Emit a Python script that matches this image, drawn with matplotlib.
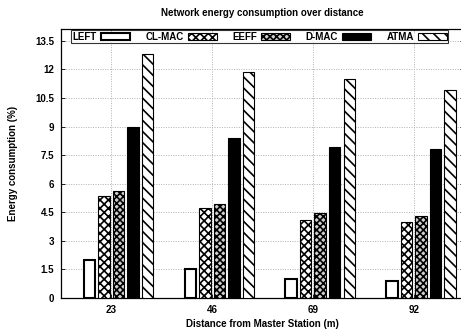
import matplotlib
matplotlib.use("Agg")
import matplotlib.pyplot as plt
import numpy as np

categories = ["23", "46", "69", "92"]
series_names = ["LEFT", "CL-MAC", "EEFF", "D-MAC", "ATMA"]
left_vals = [2.0, 1.5, 1.0, 0.9]
clmac_vals = [5.35, 4.75, 4.1, 4.0]
eeff_vals = [5.6, 4.95, 4.45, 4.3]
dmac_vals = [8.95, 8.4, 7.95, 7.8]
atma_vals = [12.8, 11.85, 11.5, 10.9]
yticks = [0, 1.5, 3, 4.5, 6, 7.5, 9, 10.5, 12, 13.5]

series = [left_vals, clmac_vals, eeff_vals, dmac_vals, atma_vals]
styles = [
    dict(facecolor="white", hatch=None, edgecolor="black", linewidth=1.5),
    dict(facecolor="white", hatch="xxxx", edgecolor="black", linewidth=0.8),
    dict(facecolor="#d0d0d0", hatch="xxxxx", edgecolor="black", linewidth=0.8),
    dict(facecolor="black", hatch=None, edgecolor="black", linewidth=0.8),
    dict(facecolor="white", hatch="\\\\\\", edgecolor="black", linewidth=0.8),
]

plt.rcParams["font.family"] = ["Liberation Sans", "DejaVu Sans"]
plt.rcParams["font.weight"] = "bold"
plt.rcParams["hatch.linewidth"] = 1.2

fig = plt.figure(figsize=(4.61, 3.31), dpi=100)
W, H = 461, 331
ax = fig.add_axes([61 / W, 1 - 298 / H, (464 - 61) / W, (298 - 29) / H])

x = np.arange(len(categories))
step = 0.144
width = 0.112
for i, (name, vals, st) in enumerate(zip(series_names, series, styles)):
    ax.bar(x + (i - 1.5) * step, vals, width, label=name, zorder=3, **st)

ax.set_xlim(-0.5, 3.5)
ax.set_ylim(0, 14.12)
ax.set_xticks(x)
ax.set_xticklabels(categories, fontsize=7, fontweight="bold")
ax.set_yticks(yticks)
ax.set_yticklabels([f"{v:g}" for v in yticks], fontsize=7, fontweight="bold")
ax.tick_params(direction="in", length=3, width=0.6, top=True, right=True, pad=5)
ax.grid(True, linestyle=(0, (1, 1.5)), color="#b0b0b0", linewidth=0.7, zorder=0)
for s in ax.spines.values():
    s.set_linewidth(0.9)

ax.set_title("Network energy consumption over distance", fontsize=7,
             fontweight="bold", pad=9)
ax.set_xlabel("Distance from Master Station (m)", fontsize=7, fontweight="bold", labelpad=3)
ax.set_ylabel("Energy consumption (%)", fontsize=7, fontweight="bold", labelpad=12)

leg = ax.legend(loc="upper left", bbox_to_anchor=(0.025, 0.995), ncol=5,
                markerfirst=False, fontsize=7, frameon=True, fancybox=False,
                edgecolor="black", borderpad=0.15, handlelength=3.0,
                handleheight=0.7, columnspacing=1.6, handletextpad=0.4,
                borderaxespad=0.0)
leg.get_frame().set_linewidth(0.8)
for t in leg.get_texts():
    t.set_fontweight("bold")

fig.savefig("out.png", dpi=100)
